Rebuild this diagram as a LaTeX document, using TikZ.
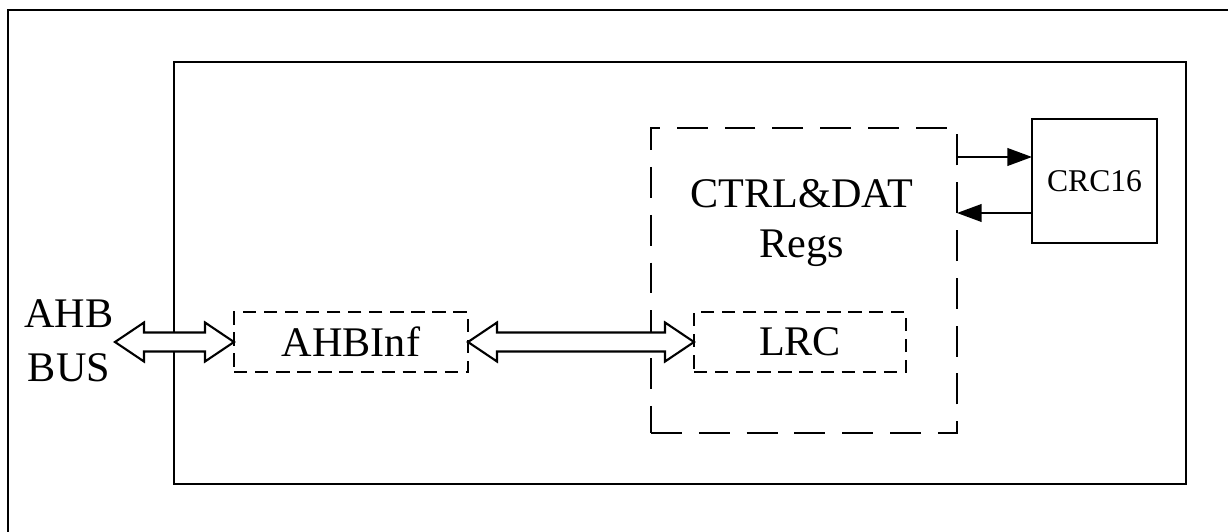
\documentclass[tikz,border=0pt]{standalone}
\usepackage{fontspec}
\setmainfont{Liberation Serif}
\usetikzlibrary{calc,arrows.meta}

\tikzset{
  box/.style={draw, line width=0.6pt, inner sep=0pt, outer sep=0pt},
  dbox/.style={box, dash pattern=on 3.8pt off 2.2pt},
  bigdbox/.style={box, dash pattern=on 8.8pt off 4.8pt},
  txt/.style={inner sep=0pt, align=center, font=\fontsize{12}{14}\selectfont},
  sig/.style={line width=0.6pt, -{Triangle[length=7pt,width=5pt]}}
}

% hollow double-headed bus arrow between two points at the same height
\newcommand{\busarrow}[2]{%
  \draw[fill=white, line width=0.6pt] let \p1=(#1), \p2=(#2) in
    (\x1,\y1) -- (\x1+0.29cm,\y1+0.195cm) -- (\x1+0.29cm,\y1+0.095cm)
    -- (\x2-0.29cm,\y1+0.095cm) -- (\x2-0.29cm,\y1+0.195cm) -- (\x2,\y1)
    -- (\x2-0.29cm,\y1-0.195cm) -- (\x2-0.29cm,\y1-0.095cm)
    -- (\x1+0.29cm,\y1-0.095cm) -- (\x1+0.29cm,\y1-0.195cm) -- cycle;}

\begin{document}
\begin{tikzpicture}
  \useasboundingbox (0,0) rectangle (12.28,5.31);
  % frames
  \draw[line width=0.6pt] (0.08,-0.5) rectangle (12.8,5.21);
  \draw[line width=0.6pt] (1.74,0.47) rectangle (11.86,4.69);

  % blocks
  \node[bigdbox, minimum width=3.06cm, minimum height=3.05cm] (ctrl) at (8.04,2.505) {};
  \node[txt] (regs) at (8.02,3.08) {CTRL\&DAT\\Regs};
  \node[dbox, minimum width=2.34cm, minimum height=0.6cm, txt] (ahbinf) at (3.51,1.89) {AHBInf};
  \node[dbox, minimum width=2.12cm, minimum height=0.6cm, txt] (lrc) at (8.00,1.89) {LRC};
  \node[box, minimum width=1.25cm, minimum height=1.24cm, font=\fontsize{9}{11}\selectfont] (crc) at (10.945,3.50) {CRC16};
  \node[txt, font=\fontsize{12}{15.4}\selectfont] (bus) at (0.69,1.90) {AHB\\BUS};

  % connections
  \coordinate (busend) at (1.15,1.89);
  \busarrow{busend}{ahbinf.west}
  \busarrow{ahbinf.east}{lrc.west}
  \coordinate (tx) at (ctrl.east |- 0,3.74);
  \coordinate (rx) at (crc.west |- 0,3.18);
  \draw[sig] (tx) -- (tx -| crc.west);
  \draw[sig] (rx) -- (rx -| ctrl.east);
\end{tikzpicture}
\end{document}
